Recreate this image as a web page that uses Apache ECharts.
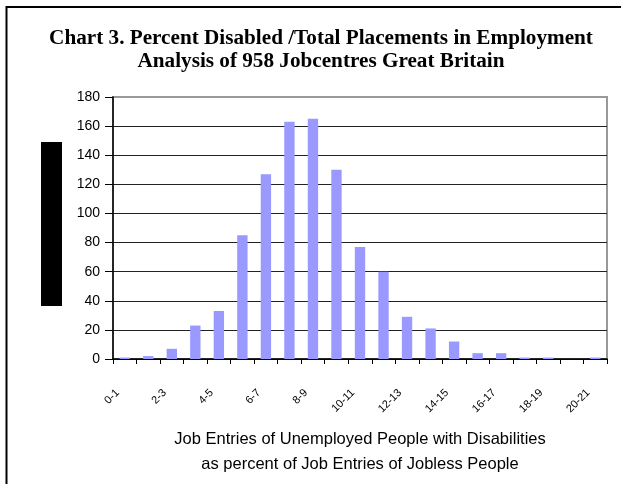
<!DOCTYPE html>
<html><head><meta charset="utf-8">
<script src="https://cdn.jsdelivr.net/npm/echarts@6/dist/echarts.min.js"></script>
<style>html,body{margin:0;padding:0;background:#fff}#c{width:621px;height:484px}</style>
</head><body><div id="c"></div>
<script>
const categories = ["0-1","1-2","2-3","3-4","4-5","5-6","6-7","7-8","8-9","9-10","10-11","11-12","12-13","13-14","14-15","15-16","16-17","17-18","18-19","19-20","20-21"];
const counts = [1,2,7,23,33,85,127,163,165,130,77,60,29,21,12,4,4,1,1,0,1];
const yTicks = [0,20,40,60,80,100,120,140,160,180];
const titleLines = ["Chart 3. Percent Disabled /Total Placements in Employment","Analysis of 958 Jobcentres Great Britain"];
const xTitleLines = ["Job Entries of Unemployed People with Disabilities","as percent of Job Entries of Jobless People"];

const chart = echarts.init(document.getElementById('c'), null, {renderer:'canvas'});
const gridColors = yTicks.map((v,i)=> i===yTicks.length-1 ? '#999' : '#222');
chart.setOption({
  animation:false,
  backgroundColor:'#fff',
  title:{
    text: titleLines.join('\n'),
    left: 316, top: 22, textAlign:'center',
    textStyle:{fontFamily:'Liberation Serif', fontWeight:'bold', fontSize:21.2, lineHeight:23, color:'#000'}
  },
  grid:{left:113, top:97, width:494, height:262, show:true, borderColor:'#999', borderWidth:2, backgroundColor:'transparent', containLabel:false, outerBoundsMode:'none'},
  xAxis:{
    type:'category', data:categories,
    axisLine:{lineStyle:{color:'#000', width:1.5}},
    axisTick:{show:true, alignWithLabel:false, length:5, interval:0, lineStyle:{color:'#000'}},
    axisLabel:{interval:1, rotate:45, fontSize:11, fontFamily:'Liberation Sans', color:'#000', margin:25, padding:[0,10,0,0]},
    name: xTitleLines.join('\n'), nameLocation:'middle', nameGap:68,
    nameTextStyle:{fontFamily:'Liberation Sans', fontSize:16.5, lineHeight:25, color:'#000'}
  },
  yAxis:{
    type:'value', min:0, max:180, interval:20,
    axisLine:{show:true, lineStyle:{color:'#000', width:1.5}},
    axisTick:{show:true, length:8, lineStyle:{color:'#000'}},
    axisLabel:{fontSize:14, fontFamily:'Liberation Sans', color:'#000', margin:13},
    splitLine:{lineStyle:{color:gridColors, width:1.2}}
  },
  series:[{
    type:'bar', data:counts, barWidth:'44%',
    itemStyle:{color:'#9999FF'}
  }],
  graphic:[
    {type:'rect', shape:{x:6.5, y:7, width:700, height:600}, style:{fill:null, stroke:'#000', lineWidth:2}, silent:true},
    {type:'rect', shape:{x:41, y:142, width:21, height:164}, style:{fill:'#000'}, silent:true}
  ]
});
</script></body></html>
